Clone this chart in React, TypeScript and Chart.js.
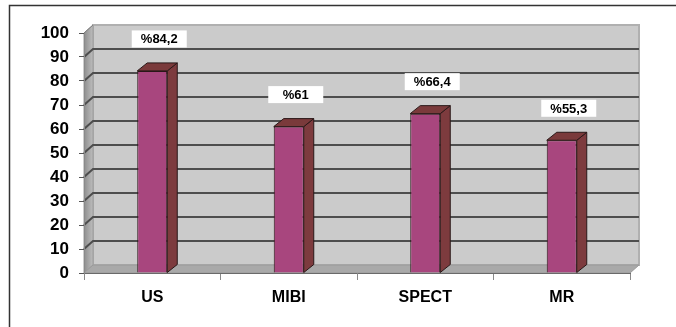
import React, { useEffect, useRef } from "react";
import { Chart, registerables } from "chart.js";

Chart.register(...registerables);

const categories: string[] = ["US", "MIBI", "SPECT", "MR"];
const values: number[] = [84.2, 61, 66.4, 55.3];
const yMin = 0;
const yMax = 100;
const yStep = 10;

const FONT = "'Liberation Sans', Arial, sans-serif";
const WALL_DX = 9;
const WALL_DY = -8;
const BAR_DX = 10;
const BAR_DY = -8;

const fmt = (v: number) => "%" + String(v).replace(".", ",");

function poly(ctx: CanvasRenderingContext2D, pts: number[][], fill: string, stroke?: string, lw = 1) {
  ctx.beginPath();
  ctx.moveTo(pts[0][0], pts[0][1]);
  for (let i = 1; i < pts.length; i++) ctx.lineTo(pts[i][0], pts[i][1]);
  ctx.closePath();
  ctx.fillStyle = fill;
  ctx.fill();
  if (stroke) {
    ctx.strokeStyle = stroke;
    ctx.lineWidth = lw;
    ctx.stroke();
  }
}

const threeD = {
  id: "threeD",
  beforeDraw(chart: any) {
    const { ctx, chartArea: a, scales } = chart;
    const ys = scales.y;
    const L = a.left;
    const R = a.right;
    const T = ys.getPixelForValue(yMax);
    const B = ys.getPixelForValue(yMin);
    ctx.save();
    ctx.fillStyle = "#ffffff";
    ctx.fillRect(0, 0, chart.width, chart.height);
    // back wall
    ctx.fillStyle = "#CBCBCB";
    ctx.fillRect(L + WALL_DX, T + WALL_DY, R - L, B - T);
    ctx.strokeStyle = "#B0B0B0";
    ctx.lineWidth = 2;
    ctx.strokeRect(L + WALL_DX, T + WALL_DY, R - L, B - T);
    // left wall
    const g = ctx.createLinearGradient(L, 0, L + WALL_DX, 0);
    g.addColorStop(0, "#8E8E8E");
    g.addColorStop(1, "#BDBDBD");
    poly(ctx, [[L, B], [L, T], [L + WALL_DX, T + WALL_DY], [L + WALL_DX, B + WALL_DY]], g as any, "#9A9A9A", 1);
    // floor
    poly(ctx, [[L, B], [R, B], [R + WALL_DX, B + WALL_DY], [L + WALL_DX, B + WALL_DY]], "#A9A9A9", "#9A9A9A", 1);
    // gridlines
    ctx.strokeStyle = "#4E4E4E";
    ctx.lineWidth = 2;
    for (let v = yMin + yStep; v < yMax; v += yStep) {
      const yy = ys.getPixelForValue(v);
      ctx.beginPath();
      ctx.moveTo(L, yy);
      ctx.lineTo(L + WALL_DX, yy + WALL_DY);
      ctx.lineTo(R + WALL_DX, yy + WALL_DY);
      ctx.stroke();
    }
    ctx.strokeStyle = "#808080";
    ctx.lineWidth = 1;
    ctx.beginPath();
    ctx.moveTo(L, T);
    ctx.lineTo(L + WALL_DX, T + WALL_DY);
    ctx.stroke();
    ctx.restore();
  },
  afterDatasetsDraw(chart: any) {
    const { ctx } = chart;
    const meta = chart.getDatasetMeta(0);
    ctx.save();
    meta.data.forEach((bar: any, i: number) => {
      const { x, y, base, width } = bar.getProps(["x", "y", "base", "width"], true);
      const l = x - width / 2;
      const r = x + width / 2;
      // side face
      poly(ctx, [[r, y], [r + BAR_DX, y + BAR_DY], [r + BAR_DX, base + BAR_DY], [r, base]], "#7D3B3E", "#2A1818", 1);
      // top face
      poly(ctx, [[l, y], [r, y], [r + BAR_DX, y + BAR_DY], [l + BAR_DX, y + BAR_DY]], "#7A3A3B", "#2A1818", 1);
      // label
      const txt = fmt(values[i]);
      ctx.font = `bold 13px ${FONT}`;
      const cx = x + 7;
      const cy = y - 32;
      const w = 55;
      const h = 17;
      ctx.fillStyle = "#ffffff";
      ctx.fillRect(cx - w / 2, cy - h / 2, w, h);
      ctx.fillStyle = "#000000";
      ctx.textAlign = "center";
      ctx.textBaseline = "middle";
      ctx.fillText(txt, cx, cy + 1);
    });
    ctx.restore();
  },
  afterDraw(chart: any) {
    const { ctx } = chart;
    ctx.save();
    ctx.strokeStyle = "#333333";
    ctx.lineWidth = 1.5;
    ctx.beginPath();
    ctx.moveTo(9.5, chart.height + 2);
    ctx.lineTo(9.5, 5.5);
    ctx.lineTo(chart.width + 2, 5.5);
    ctx.stroke();
    ctx.restore();
  },
};

export default function App() {
  const ref = useRef<HTMLCanvasElement | null>(null);
  useEffect(() => {
    document.body.style.margin = "0";
    const canvas = ref.current!;
    const chart = new Chart(canvas, {
      type: "bar",
      data: {
        labels: categories,
        datasets: [
          {
            data: values,
            backgroundColor: "#A8467E",
            borderColor: "#2A1818",
            borderWidth: 1,
            categoryPercentage: 1,
            barPercentage: 0.22,
          },
        ],
      },
      options: {
        responsive: false,
        animation: false,
        devicePixelRatio: 1,
        layout: { padding: { top: 33, right: 46, left: 0, bottom: 0 } },
        plugins: { legend: { display: false }, tooltip: { enabled: false } },
        scales: {
          x: {
            grid: { offset: true, drawOnChartArea: false, tickLength: 7, color: "#8A8A8A" },
            border: { display: true, color: "#6A6A6A" },
            ticks: { color: "#000", padding: 8, font: { family: FONT, size: 16, weight: "bold" } },
            afterFit(s: any) {
              s.height = 54;
            },
          },
          y: {
            min: yMin,
            max: yMax,
            grid: { drawOnChartArea: false, tickLength: 5, color: "#555555" },
            border: { display: true, color: "#8A8A8A" },
            ticks: { stepSize: yStep, color: "#000", padding: 10, font: { family: FONT, size: 17, weight: "bold" } },
            afterFit(s: any) {
              s.width = 84;
            },
          },
        },
      } as any,
      plugins: [threeD],
    });
    return () => chart.destroy();
  }, []);
  return (
    <div style={{ position: "absolute", left: 0, top: 0, width: 676, height: 327 }}>
      <canvas ref={ref} width={676} height={327} style={{ display: "block", width: 676, height: 327 }} />
    </div>
  );
}
